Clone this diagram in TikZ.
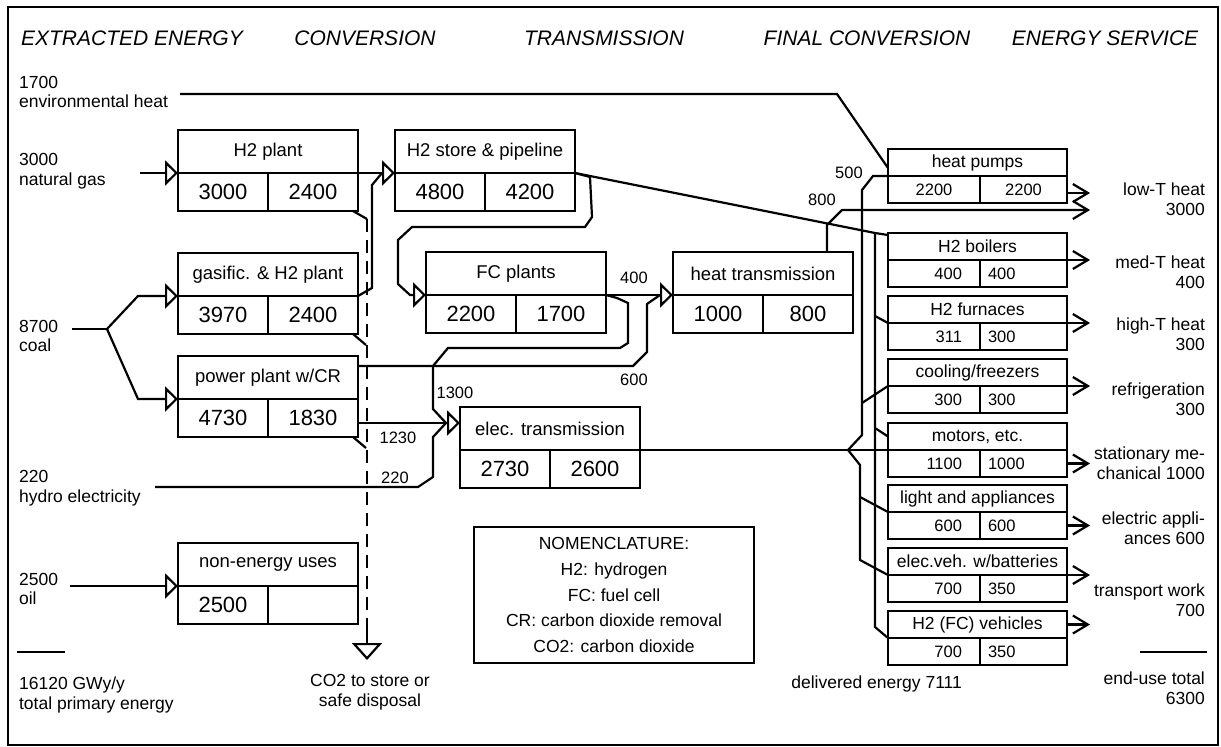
\documentclass[tikz,border=0pt]{standalone}
\usepackage{fontspec}
\setmainfont{Liberation Sans}
\usetikzlibrary{arrows.meta,calc}

\newcommand{\headfont}{\fontsize{21}{24}\selectfont\itshape}
\newcommand{\sidefont}{\fontsize{17.5}{19.5}\selectfont}
\newcommand{\boxlabfont}{\fontsize{18.5}{20}\selectfont}
\newcommand{\boxnumfont}{\fontsize{22}{24}\selectfont}
\newcommand{\cellnumfont}{\fontsize{16.5}{18}\selectfont}
\newcommand{\flowfont}{\fontsize{16.5}{18}\selectfont}

% box: label on top, two values below
\newcommand{\procbox}[6]{%
  \node[#6top, anchor=north west] (#1) at (#2) {#3};
  \node[#6left, anchor=north west] (#1-l) at (#1.south west) {#4};
  \node[#6right, anchor=north east] (#1-r) at (#1.south east) {#5};
}

\begin{document}
\begin{tikzpicture}[x=1pt, y=-1pt, line width=2.2pt,
    >={Straight Barb[length=15pt, width=18pt]},
    box/.style={draw, outer sep=0pt, inner sep=0pt},
    bigtop/.style={box, minimum width=180pt, minimum height=43pt, font=\boxlabfont},
    bigleft/.style={box, minimum width=90pt, minimum height=38pt, font=\boxnumfont},
    bigright/.style={bigleft},
    smalltop/.style={box, minimum width=179pt, minimum height=27pt, font=\sidefont},
    smallleft/.style={box, minimum height=27pt, inner xsep=18pt, text width=56pt,
        align=right, font=\cellnumfont},
    smallright/.style={box, minimum height=27pt, inner xsep=8pt, text width=71pt,
        align=left, font=\cellnumfont},
    pumptop/.style={smalltop},
    pumpleft/.style={box, minimum width=92pt, minimum height=27pt, font=\cellnumfont},
    pumpright/.style={box, minimum width=87pt, minimum height=27pt, font=\cellnumfont},
    feed/.style={-{Triangle[open, length=13pt, width=25pt]}},
    side/.style={inner sep=0pt, font=\sidefont},
    flowlab/.style={inner sep=0pt, font=\flowfont}]

    \useasboundingbox (0,0) rectangle (1221,747);
    \draw[line width=1.8pt] (8,7) rectangle (1218,745);

    % column heads
    \node[font=\headfont] (hd-ext) at (132,38) {EXTRACTED ENERGY};
    \node[font=\headfont] (hd-conv) at (365,38) {CONVERSION};
    \node[font=\headfont] (hd-trans) at (604,38) {TRANSMISSION};
    \node[font=\headfont] (hd-final) at (867,38) {FINAL CONVERSION};
    \node[font=\headfont] (hd-serv) at (1105,38) {ENERGY SERVICE};

    % primary energy
    \node[side, align=left, anchor=west] (src-env) at (18,92) {1700\\environmental heat};
    \node[side, align=left, anchor=west] (src-gas) at (18,171) {3000\\natural gas};
    \node[side, align=left, anchor=west] (src-coal) at (18,336) {8700\\coal};
    \node[side, align=left, anchor=west] (src-hydro) at (18,488) {220\\hydro electricity};
    \node[side, align=left, anchor=west] (src-oil) at (18,589) {2500\\oil};
    \node[side, align=left, anchor=west] (src-tot) at (18,695) {16120 GWy/y\\total primary energy};
    \draw (17,652) -- (65,652);

    % energy services
    \node[side, align=right, anchor=east] (svc-low) at (1206,199) {low-T heat\\3000};
    \node[side, align=right, anchor=east] (svc-med) at (1206,272) {med-T heat\\400};
    \node[side, align=right, anchor=east] (svc-high) at (1206,334) {high-T heat\\300};
    \node[side, align=right, anchor=east] (svc-ref) at (1206,399) {refrigeration\\300};
    \node[side, align=right, anchor=east] (svc-mech) at (1206,463) {stationary me-\\chanical 1000};
    \node[side, align=right, anchor=east] (svc-app) at (1206,528) {electric appli-\\ances 600};
    \node[side, align=right, anchor=east] (svc-trans) at (1206,600) {transport work\\700};
    \node[side, align=right, anchor=east] (svc-tot) at (1206,688) {end-use total\\6300};
    \draw (1140,652) -- (1207,652);

    % conversion and transmission
    \procbox{h2p}{178,130}{H2 plant}{3000}{2400}{big}
    \procbox{gas}{178,253}{gasific. \& H2 plant}{3970}{2400}{big}
    \procbox{pp}{178,356}{power plant w/CR}{4730}{1830}{big}
    \procbox{neu}{178,543}{non-energy uses}{2500}{}{big}
    \procbox{h2s}{395,130}{H2 store \& pipeline}{4800}{4200}{big}
    \procbox{fc}{426,252}{FC plants}{2200}{1700}{big}
    \procbox{ht}{673,252}{heat transmission}{1000}{800}{big}
    \procbox{et}{460,407}{elec. transmission}{2730}{2600}{big}

    % final conversion
    \procbox{hp}{888,149}{heat pumps}{2200}{2200}{pump}
    \procbox{hb}{888,233}{H2 boilers}{400}{400}{small}
    \procbox{hf}{888,296}{H2 furnaces}{311}{300}{small}
    \procbox{cf}{888,359}{cooling/freezers}{300}{300}{small}
    \procbox{mo}{888,423}{motors, etc.}{1100}{1000}{small}
    \procbox{la}{888,485}{light and appliances}{600}{600}{small}
    \procbox{ev}{888,548}{elec.veh. w/batteries}{700}{350}{small}
    \procbox{hv}{888,611}{H2 (FC) vehicles}{700}{350}{small}

    \node[draw, line width=1.4pt, minimum width=280pt, minimum height=136pt, align=center,
        font={\fontsize{17.5}{25.7}\selectfont}] (nomen) at (614,595)
        {NOMENCLATURE:\\H2: hydrogen\\FC: fuel cell\\CR: carbon dioxide removal\\CO2: carbon dioxide};
    \node[side, anchor=east] (deliv) at (963,684) {delivered energy 7111};
    \node[side, align=center] (co2) at (370,692) {CO2 to store or\\safe disposal};

    % free ends and joints
    \coordinate (env-s) at (180,94);
    \coordinate (gas-s) at (140,173);
    \coordinate (coal-s) at (72,329);
    \coordinate (coal-j) at (107,329);
    \coordinate (hydro-s) at (155,487);
    \coordinate (oil-s) at (70,586);
    \coordinate (h2s-base) at ($(h2s.south west)+(-13,0)$);
    \coordinate (ht-base) at ($(ht.south west)+(-13,0)$);
    \coordinate (et-in) at ($(et.north west)+(0,16)$);
    \coordinate (et-base) at ($(et-in)+(-14,0)$);
    \coordinate (co2-top) at (367,219);
    \coordinate (co2-end) at (367,630);
    \coordinate (co2-tip) at (367,660);
    \coordinate (eb-top) at (862,190);
    \coordinate (hb-j) at (875,233);
    \coordinate (low-tip) at (1090,210);

    % extraction to conversion
    \draw (env-s) -- (837,94) -- ($(hp.south west)+(0,-8)$);
    \draw[feed] (gas-s) -- (h2p.south west);
    \draw (coal-s) -- (coal-j);
    \draw[feed] (coal-j) -- (138,296) -- (gas.south west);
    \draw[feed] (coal-j) -- (138,399) -- (pp.south west);
    \draw[feed] (oil-s) -- (neu.south west);
    \draw (hydro-s) -- (418,487) -- (433,477) -- (433,437) -- (et-base);

    % hydrogen
    \draw[feed] (h2p.south east) -- (h2s.south west);
    \draw (gas.south east) -- (372,288) -- (372,185) -- (h2s-base);
    \draw[feed] (h2s.south east) -- (590,177) -- (592,217) -- (585,227) -- (412,227)
        -- (398,240) -- (398,284) -- (410,295) -- (fc.south west);
    \draw (h2s.south east) -- (hb-j) -- ($(hb.north west)+(0,2)$);
    \draw (hb-j) -- (875,627) -- (hv.south west);
    \draw (875,316) -- (hf.south west);
    \draw (875,428) -- (mo.west);

    % heat and electricity
    \draw[feed] (fc.south east) -- (ht.south west) node[flowlab] at (634,278) {400};
    \draw ($(pp.north east)+(0,10)$) -- (633,366) -- (647,352) -- (647,304) -- (ht-base);
    \node[flowlab] (lab-600) at (634,380) {600};
    \draw (fc.south east) -- (617,298) -- (628,303) -- (628,343) -- (620,348) -- (448,348)
        -- (433,366) -- (433,409) -- (et-base);
    \node[flowlab] (lab-1300) at (455,393) {1300};
    \draw[feed] (pp.south east |- et-in) -- (et-in);
    \node[flowlab] (lab-1230) at (398,438) {1230};
    \node[flowlab] (lab-220) at (395,478) {220};

    % carbon dioxide
    \draw ($(h2p-r.south east)+(-5,0)$) -- (co2-top);
    \draw ($(gas-r.south east)+(-5,0)$) -- ++(13,11);
    \draw ($(pp-r.south east)+(-5,0)$) -- ++(13,11);
    \draw[line width=2.6pt, dash pattern=on 13pt off 8pt] (co2-top) -- (co2-end);
    \draw[-{Triangle[open, length=17pt, width=30pt]}] (co2-end) -- (co2-tip);

    % distribution to end use
    \draw[->] ($(ht.north east)+(-26,0)$) -- ++(0,-27) -- ++(15,-15) -- (low-tip);
    \node[flowlab] (lab-800) at (822,200) {800};
    \draw (hp.south west) -- ++(-15,0) -- (eb-top) -- (862,435) -- (848,450) -- (860,465)
        -- (860,560) -- (ev.south west);
    \node[flowlab] (lab-500) at (849,173) {500};
    \draw (et.south east) -- (mo.south west);
    \draw (862,403) -- (cf.south west);
    \draw (860,497) -- (la.south west);

    % services
    \draw[->] ($(hp-r.south east)+(0,-10)$) -- ++(23,0);
    \foreach \b in {hb,hf,cf,ev}
        \draw[->] (\b.south east) -- ++(23,0);
    \draw[->] (mo-r.east) -- ++(23,0);
    \draw[->] (la-r.east) -- ++(23,0);
    \draw[->] (hv.east) -- ++(23,0);

\end{tikzpicture}
\end{document}
